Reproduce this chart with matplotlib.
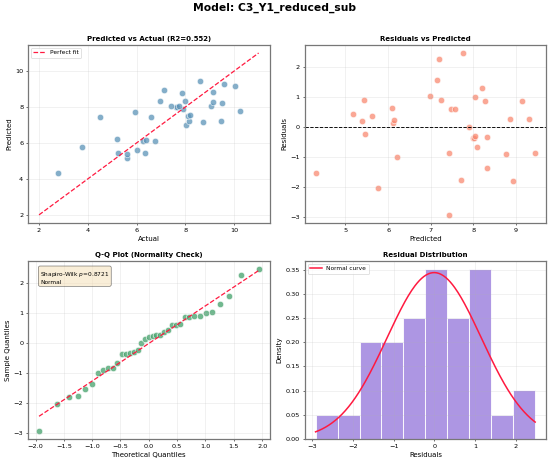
import matplotlib
matplotlib.use('Agg')
import matplotlib.pyplot as plt
import numpy as np
from statistics import NormalDist

# model outputs
predicted = [4.30, 5.17, 5.40, 5.44, 5.46, 5.63, 5.77, 6.10, 6.12, 6.15, 6.20,
             6.98, 7.14, 7.20, 7.24, 7.42, 7.42, 7.47, 7.57, 7.70, 7.75, 7.90,
             8.00, 8.02, 8.03, 8.03, 8.08, 8.20, 8.27, 8.33, 8.33, 8.77, 8.85,
             8.93, 9.15, 9.30, 9.45]
actual = [2.78, 5.60, 5.61, 6.35, 5.25, 6.00, 3.75, 6.76, 6.25, 6.38, 5.20,
          8.02, 8.71, 9.47, 8.16, 6.58, 4.50, 8.09, 8.18, 5.93, 10.23, 7.91,
          7.63, 7.67, 7.74, 9.03, 7.41, 9.50, 9.14, 8.00, 6.96, 7.87, 9.13,
          7.13, 10.03, 9.57, 8.61]
fit_range = [2, 11]
model_name = 'C3_Y1_reduced_sub'
r2_text = '0.552'
shapiro_p = '0.8721'

predicted = np.array(predicted)
actual = np.array(actual)
residuals = actual - predicted

fig, axes = plt.subplots(2, 2, figsize=(11, 9.26), dpi=50)
fig.subplots_adjust(left=0.051, right=0.993, top=0.903, bottom=0.052,
                    wspace=0.145, hspace=0.213)
fig.suptitle(f'Model: {model_name}', fontsize=15.5, fontweight='bold', y=0.995)

for ax in axes.flat:
    ax.grid(True, alpha=0.3)
    ax.tick_params(labelsize=9.3)
    for s in ax.spines.values():
        s.set_color('#777777')
        s.set_linewidth(1.8)

# predicted vs actual
ax = axes[0, 0]
ax.scatter(actual, predicted, s=85, color='#5b93b8', alpha=0.75, edgecolors='white', linewidths=1)
ax.plot(fit_range, fit_range, '--', color='#ff1a40', lw=1.8, label='Perfect fit')
ax.set_xlabel('Actual', fontsize=10)
ax.set_ylabel('Predicted', fontsize=10)
ax.set_title(f'Predicted vs Actual (R2={r2_text})', fontsize=10, fontweight='bold')
ax.legend(loc='upper left', fontsize=8.5)

# residuals vs predicted
ax = axes[0, 1]
ax.scatter(predicted, residuals, s=85, color='#f98a72', alpha=0.75, edgecolors='white', linewidths=1)
ax.axhline(0, color='black', ls='--', lw=1.3)
ax.set_xlabel('Predicted', fontsize=10)
ax.set_ylabel('Residuals', fontsize=10)
ax.set_title('Residuals vs Predicted', fontsize=10, fontweight='bold')

# Q-Q plot
ax = axes[1, 0]
n = len(residuals)
sample_q = np.sort(residuals)
theo_q = np.array([NormalDist().inv_cdf((i + 1) / (n + 1)) for i in range(n)])
slope, intercept = np.polyfit(theo_q, sample_q, 1)
ax.scatter(theo_q, sample_q, s=85, color='#4ea673', alpha=0.8, edgecolors='white', linewidths=1)
ax.plot(theo_q, slope * theo_q + intercept, '--', color='#ff1a40', lw=1.8)
ax.set_xlabel('Theoretical Quantiles', fontsize=10)
ax.set_ylabel('Sample Quantiles', fontsize=10)
ax.set_title('Q-Q Plot (Normality Check)', fontsize=10, fontweight='bold')
ax.text(0.05, 0.95, f'Shapiro-Wilk $p$={shapiro_p}\nNormal', transform=ax.transAxes,
        fontsize=8.5, va='top', bbox=dict(boxstyle='round', facecolor='wheat', alpha=0.5))

# residual distribution
ax = axes[1, 1]
ax.hist(residuals, bins=10, density=True, color='#9f84de', alpha=0.85, edgecolor='white', linewidth=1.5)
mu, sd = residuals.mean(), residuals.std()
xs = np.linspace(residuals.min(), residuals.max(), 200)
pdf = np.exp(-0.5 * ((xs - mu) / sd) ** 2) / (sd * np.sqrt(2 * np.pi))
ax.plot(xs, pdf, color='#ff1a40', lw=2.2, label='Normal curve')
ax.set_xlabel('Residuals', fontsize=10)
ax.set_ylabel('Density', fontsize=10)
ax.set_title('Residual Distribution', fontsize=10, fontweight='bold')
ax.legend(loc='upper left', fontsize=8.5)

fig.savefig('out.png', dpi=50)
